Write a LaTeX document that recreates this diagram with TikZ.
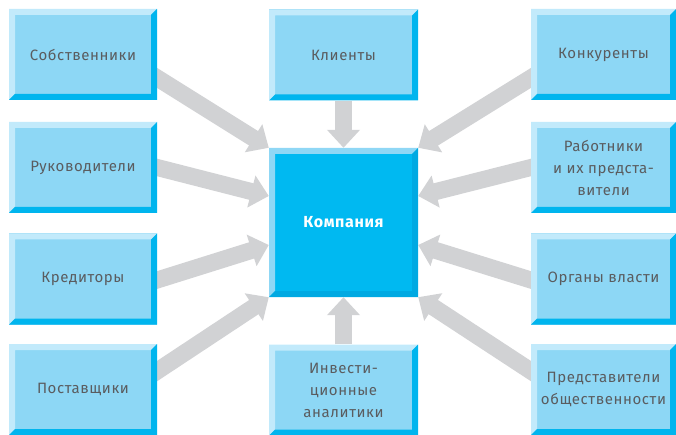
\documentclass[tikz,border=0pt]{standalone}
\usepackage{fontspec}
\setmainfont{Fira Sans}[LetterSpace=4]
\usetikzlibrary{arrows.meta,calc,backgrounds}
\definecolor{face}{HTML}{8DD7F5}
\definecolor{lite}{HTML}{C2EAFB}
\definecolor{dark}{HTML}{00B5EE}
\definecolor{cface}{HTML}{00B9F1}
\definecolor{clite}{HTML}{8FD7F5}
\definecolor{cdark}{HTML}{00A9E2}
\definecolor{txt}{HTML}{5A5C5F}
\definecolor{arrg}{HTML}{D1D2D4}
\begin{document}
\begin{tikzpicture}[x=1pt,y=-1pt,
  bev/.style n args={3}{path picture={
    \fill[#1] (path picture bounding box.south west) -- (path picture bounding box.north west)
      -- (path picture bounding box.north east) -- ($(path picture bounding box.north east)+(-6pt,-6pt)$)
      -- ($(path picture bounding box.north west)+(6pt,-6pt)$) -- ($(path picture bounding box.south west)+(6pt,6pt)$) -- cycle;
    \fill[#2] (path picture bounding box.north east) -- (path picture bounding box.south east)
      -- (path picture bounding box.south west) -- ($(path picture bounding box.south west)+(6pt,6pt)$)
      -- ($(path picture bounding box.south east)+(-6pt,6pt)$) -- ($(path picture bounding box.north east)+(-6pt,-6pt)$) -- cycle;
  }},
  box/.style={fill=face, bev={lite}{dark}{}, minimum width=148pt, minimum height=91pt,
    inner sep=0pt, text=txt, align=center, font=\fontsize{15}{22}\selectfont},
  rbox/.style={box, minimum width=145pt},
  cbox/.style={fill=cface, bev={clite}{cdark}{}, minimum width=149pt, minimum height=149pt,
    inner sep=0pt, text=white, font=\fontsize{16}{20}\selectfont\bfseries},
  arr/.style={draw=arrg, line width=17pt, -{Triangle[length=18pt,width=32pt]}}]
\useasboundingbox (0,0) rectangle (676,435);
% left column
\node[box] (sob) at (83,54.5) {Собственники};
\node[box] (ruk) at (83,167.5) {Руководители};
\node[box] (kre) at (83,279) {Кредиторы};
\node[box] (pos) at (83,389.5) {Поставщики};
% middle column
\node[box, minimum width=149pt] (kli) at (343.5,55) {Клиенты};
\node[cbox] (kom) at (343.5,222.5) {Компания};
\node[box, minimum width=149pt] (inv) at (343.5,390) {Инвести-\\ционные\\аналитики};
% right column
\node[rbox] (kon) at (603.5,54.5) {Конкуренты};
\node[rbox] (rab) at (603.5,167.5) {Работники\\и их предста-\\вители};
\node[rbox] (org) at (603.5,279) {Органы власти};
\node[rbox] (pre) at (603.5,389.5) {Представители\\общественности};
\begin{pgfonlayer}{background}
\draw[arr] ($($(sob.east)+(0,23.5)$)!-12pt!(kom.north west)$) -- (kom.north west);
\draw[arr] ($(ruk.east)!-12pt!($(kom.west)+(0,-26.5)$)$) -- ($(kom.west)+(0,-26.5)$);
\draw[arr] ($($(kre.east)+(0,1)$)!-12pt!($(kom.west)+(0,22.5)$)$) -- ($(kom.west)+(0,22.5)$);
\draw[arr] ($($(pos.east)+(0,-18.5)$)!-12pt!(kom.south west)$) -- (kom.south west);
\draw[arr] (kli.south) -- (kom.north);
\draw[arr] (inv.north) -- (kom.south);
\draw[arr] ($($(kon.west)+(0,23.5)$)!-12pt!(kom.north east)$) -- (kom.north east);
\draw[arr] ($(rab.west)!-12pt!($(kom.east)+(0,-26.5)$)$) -- ($(kom.east)+(0,-26.5)$);
\draw[arr] ($($(org.west)+(0,1)$)!-12pt!($(kom.east)+(0,22.5)$)$) -- ($(kom.east)+(0,22.5)$);
\draw[arr] ($($(pre.west)+(0,-18.5)$)!-12pt!(kom.south east)$) -- (kom.south east);
\end{pgfonlayer}
\end{tikzpicture}
\end{document}
